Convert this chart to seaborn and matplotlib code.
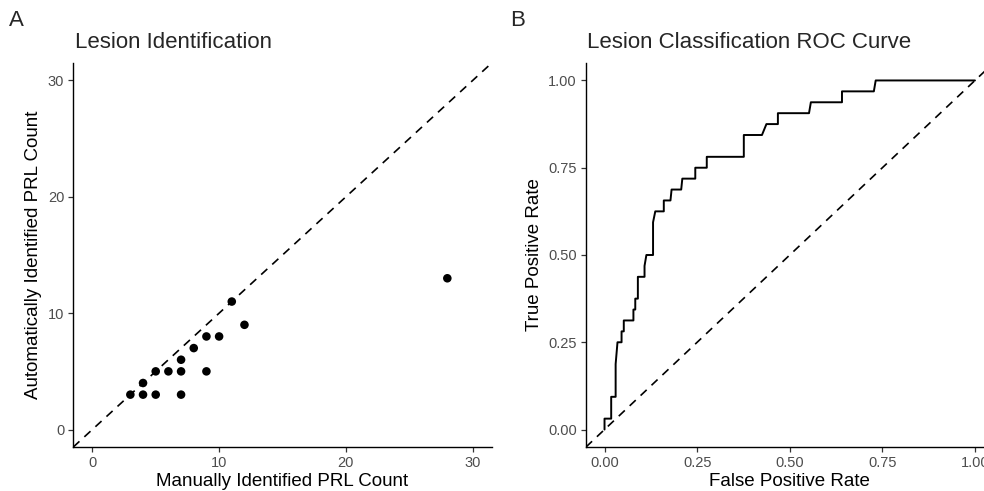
import matplotlib
matplotlib.use("Agg")
import matplotlib.pyplot as plt
import seaborn as sns
import pandas as pd

# ---- data ----
manual_count = [3, 4, 4, 5, 5, 6, 7, 7, 7, 8, 9, 9, 10, 11, 12, 28]
auto_count = [3, 3, 4, 3, 5, 5, 3, 5, 6, 7, 5, 8, 8, 11, 9, 13]

roc_fpr = [0.000, 0.000, 0.018, 0.018, 0.030, 0.030, 0.035, 0.046, 0.046, 0.052,
           0.052, 0.078, 0.078, 0.083, 0.083, 0.090, 0.090, 0.108, 0.108, 0.113,
           0.131, 0.131, 0.137, 0.160, 0.160, 0.178, 0.181, 0.207, 0.210, 0.245,
           0.245, 0.276, 0.276, 0.376, 0.376, 0.425, 0.437, 0.468, 0.468, 0.552,
           0.557, 0.641, 0.641, 0.727, 0.732, 1.000]
roc_tpr = [0.00000, 0.03125, 0.03125, 0.09375, 0.09375, 0.18750, 0.25000, 0.25000,
           0.28125, 0.28125, 0.31250, 0.31250, 0.34375, 0.34375, 0.37500, 0.37500,
           0.43750, 0.43750, 0.46875, 0.50000, 0.50000, 0.59375, 0.62500, 0.62500,
           0.65625, 0.65625, 0.68750, 0.68750, 0.71875, 0.71875, 0.75000, 0.75000,
           0.78125, 0.78125, 0.84375, 0.84375, 0.87500, 0.87500, 0.90625, 0.90625,
           0.93750, 0.93750, 0.96875, 0.96875, 1.00000, 1.00000]

scatter_ticks = [0, 10, 20, 30]
roc_ticks = [0.0, 0.25, 0.5, 0.75, 1.0]
roc_ticklabels = ["0.00", "0.25", "0.50", "0.75", "1.00"]

df_sc = pd.DataFrame({"manual": manual_count, "auto": auto_count})
df_roc = pd.DataFrame({"fpr": roc_fpr, "tpr": roc_tpr})

sns.set_theme(style="ticks")
plt.rcParams["font.family"] = ["Liberation Sans", "DejaVu Sans"]

W, H = 984, 491
fig = plt.figure(figsize=(W / 100, H / 100), dpi=100)

def px_axes(x0, x1, y0, y1):
    return fig.add_axes([x0 / W, 1 - y1 / H, (x1 - x0) / W, (y1 - y0) / H])

ax1 = px_axes(73.3, 491.7, 63, 447)
ax2 = px_axes(586, 993.5, 63, 447)

tick_col = "#4D4D4D"

def style(ax):
    for s in ["top", "right"]:
        ax.spines[s].set_visible(False)
    for s in ["left", "bottom"]:
        ax.spines[s].set_color("black")
        ax.spines[s].set_linewidth(1.0)
    ax.tick_params(axis="both", colors="#333333", labelcolor=tick_col,
                   labelsize=10.5, length=3.5, width=0.9, pad=3)
    ax.grid(False)

dash = (0, (5, 4))

# Panel A
sns.scatterplot(data=df_sc, x="manual", y="auto", ax=ax1, color="black",
                s=38, edgecolor="none", linewidth=0, zorder=3)
ax1.axline((0, 0), slope=1, color="black", linestyle=dash, linewidth=1.2)
ax1.set_xlim(-1.5, 31.5)
ax1.set_ylim(-1.5, 31.5)
ax1.set_xticks(scatter_ticks)
ax1.set_yticks(scatter_ticks)
ax1.set_xlabel("Manually Identified PRL Count", fontsize=13.5, color="black", labelpad=2)
ax1.set_ylabel("Automatically Identified PRL Count", fontsize=13.5, color="black", labelpad=4)
style(ax1)

# Panel B
sns.lineplot(data=df_roc, x="fpr", y="tpr", ax=ax2, color="black",
             sort=False, estimator=None, linewidth=1.4)
ax2.axline((0, 0), slope=1, color="black", linestyle=dash, linewidth=1.2)
ax2.set_xlim(-0.05, 1.05)
ax2.set_ylim(-0.05, 1.05)
ax2.set_xticks(roc_ticks)
ax2.set_xticklabels(roc_ticklabels)
ax2.set_yticks(roc_ticks)
ax2.set_yticklabels(roc_ticklabels)
ax2.set_xlabel("False Positive Rate", fontsize=13.5, color="black", labelpad=2)
ax2.set_ylabel("True Positive Rate", fontsize=13.5, color="black", labelpad=4)
style(ax2)

# Titles and panel labels
fig.text(75 / W, 1 - 43 / H, "Lesion Identification", fontsize=16, va="center", ha="left")
fig.text(587 / W, 1 - 43 / H, "Lesion Classification ROC Curve", fontsize=16, va="center", ha="left")
fig.text(9 / W, 1 - 21 / H, "A", fontsize=16, va="center", ha="left")
fig.text(510 / W, 1 - 21 / H, "B", fontsize=16, va="center", ha="left")

fig.savefig("out.png", dpi=100)
